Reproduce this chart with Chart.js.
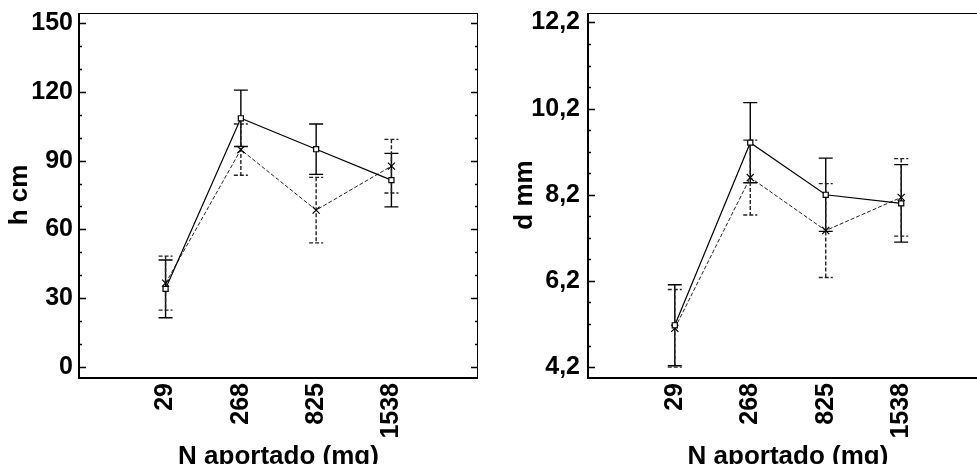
<!DOCTYPE html>
<html>
<head>
<meta charset="utf-8">
<script src="https://cdn.jsdelivr.net/npm/chart.js@4"></script>
<style>
html, body { margin: 0; padding: 0; background: #fff; overflow: hidden; width: 977px; height: 464px; }
.box { position: absolute; top: 0; height: 472px; }
#b1 { left: 0; width: 490px; }
#b2 { left: 490px; width: 510px; }
</style>
</head>
<body>
<div class="box" id="b1"><canvas id="c1"></canvas></div>
<div class="box" id="b2"><canvas id="c2"></canvas></div>
<script>
const doses = ['29', '268', '825', '1538'];

// h cm
const hSolid = [34, 108.5, 95, 81.5];
const hSolidErr = [12.6, 12.3, 11, 11.7];
const hDash = [36.5, 94.8, 68.4, 87.6];
const hDashErr = [11.8, 11.2, 14.3, 11.7];
const hTicks = [0, 30, 60, 90, 120, 150];

// d mm
const dSolid = [5.17, 9.41, 8.2, 8.0];
const dSolidErr = [0.94, 0.93, 0.85, 0.9];
const dDash = [5.1, 8.6, 7.37, 8.14];
const dDashErr = [0.9, 0.87, 1.09, 0.9];
const dTicks = [4.2, 6.2, 8.2, 10.2, 12.2];

Chart.defaults.font.family = 'Liberation Sans, Arial, sans-serif';
Chart.defaults.color = '#000';

const barsAndFrame = {
  id: 'barsAndFrame',
  beforeDatasetsDraw(chart, args, opts) {
    const ctx = chart.ctx, x = chart.scales.x, y = chart.scales.y;
    chart.data.datasets.forEach((ds, i) => {
      const err = opts.errors[i];
      ctx.save();
      ctx.strokeStyle = ds.borderColor;
      ctx.lineWidth = 1.4;
      ctx.setLineDash(ds.borderDash || []);
      ds.data.forEach((p, j) => {
        const px = x.getPixelForValue(p.x);
        const top = y.getPixelForValue(p.y + err[j]);
        const bot = y.getPixelForValue(p.y - err[j]);
        ctx.beginPath();
        ctx.moveTo(px, top); ctx.lineTo(px, bot);
        ctx.moveTo(px - 7, top); ctx.lineTo(px + 7, top);
        ctx.moveTo(px - 7, bot); ctx.lineTo(px + 7, bot);
        ctx.stroke();
      });
      ctx.restore();
    });
  },
  afterDraw(chart, args, opts) {
    const ctx = chart.ctx, a = chart.chartArea, y = chart.scales.y;
    ctx.save();
    ctx.strokeStyle = '#000';
    // tick marks, inside the frame
    ctx.lineWidth = 1.3;
    y.ticks.forEach(t => {
      const py = Math.round(y.getPixelForValue(t.value)) + 0.5;
      const len = opts.majors.some(m => Math.abs(m - t.value) < 1e-6) ? 7 : 3;
      ctx.beginPath();
      ctx.moveTo(a.left, py); ctx.lineTo(a.left + len, py);
      ctx.moveTo(a.right, py); ctx.lineTo(a.right - len, py);
      ctx.stroke();
    });
    // frame
    ctx.lineWidth = 1;
    ctx.beginPath();
    ctx.moveTo(a.left, a.top + 0.5); ctx.lineTo(a.right, a.top + 0.5);
    ctx.moveTo(a.right - 0.5, a.top); ctx.lineTo(a.right - 0.5, a.bottom);
    ctx.stroke();
    ctx.lineWidth = 2;
    ctx.beginPath();
    ctx.moveTo(a.left, a.top); ctx.lineTo(a.left, a.bottom + 1);
    ctx.lineTo(a.right, a.bottom + 1);
    ctx.stroke();
    ctx.restore();
  }
};

function makeChart(id, p) {
  const toPts = arr => arr.map((v, i) => ({ x: i, y: v }));
  const isMajor = v => p.majors.some(m => Math.abs(m - v) < 1e-6);
  new Chart(document.getElementById(id), {
    type: 'line',
    data: {
      datasets: [{
        data: toPts(p.solid),
        borderColor: '#000',
        borderWidth: 1.2,
        pointStyle: 'rect',
        pointRadius: 3.6,
        pointBackgroundColor: '#fff',
        pointBorderColor: '#000',
        pointBorderWidth: 1.2,
        tension: 0
      }, {
        data: toPts(p.dash),
        borderColor: '#222',
        borderWidth: 1,
        borderDash: [4, 2],
        pointStyle: 'crossRot',
        pointRadius: 5,
        pointBorderColor: '#000',
        pointBorderWidth: 1.2,
        tension: 0
      }]
    },
    options: {
      responsive: true,
      maintainAspectRatio: false,
      animation: false,
      layout: { padding: { top: 13, right: 12, left: 0, bottom: 0 } },
      plugins: {
        legend: { display: false },
        tooltip: { enabled: false },
        barsAndFrame: { errors: [p.solidErr, p.dashErr], majors: p.majors }
      },
      scales: {
        x: {
          type: 'linear',
          min: -1.15,
          max: 4.15,
          grid: { display: false, drawTicks: false },
          border: { display: false },
          afterBuildTicks: s => { s.ticks = doses.map((d, i) => ({ value: i })); },
          afterFit: s => { s.height = 95; s.paddingLeft = 0; s.paddingRight = 0; },
          ticks: {
            autoSkip: false,
            minRotation: 90,
            maxRotation: 90,
            padding: 6,
            font: { size: 25, weight: 'bold' },
            callback: v => doses[v]
          },
          title: {
            display: true,
            text: 'N aportado (mg)',
            font: { size: 26, weight: 'bold' },
            padding: 0
          }
        },
        y: {
          min: p.min,
          max: p.max,
          grid: { display: false, drawTicks: false },
          border: { display: false },
          afterBuildTicks: s => {
            const t = [];
            for (let v = p.majors[0]; v <= p.max + 1e-9; v += p.step) t.push({ value: Math.round(v * 100) / 100 });
            s.ticks = t;
          },
          afterFit: s => { s.width = p.axisWidth; s.paddingTop = 0; s.paddingBottom = 0; },
          ticks: {
            autoSkip: false,
            padding: p.tickPad,
            font: { size: 25, weight: 'bold' },
            callback: v => isMajor(v) ? p.fmt(v) : ''
          },
          title: {
            display: true,
            text: p.title,
            font: { size: 26, weight: 'bold' },
            padding: { top: p.titlePad, bottom: 0 }
          }
        }
      }
    },
    plugins: [barsAndFrame]
  });
}

makeChart('c1', {
  solid: hSolid, solidErr: hSolidErr, dash: hDash, dashErr: hDashErr,
  majors: hTicks, step: 10, min: -4.5, max: 154.5,
  title: 'h cm', axisWidth: 79, tickPad: 6, titlePad: 4,
  fmt: v => String(v)
});

makeChart('c2', {
  solid: dSolid, solidErr: dSolidErr, dash: dDash, dashErr: dDashErr,
  majors: dTicks, step: 0.5, min: 3.97, max: 12.42,
  title: 'd mm', axisWidth: 98, tickPad: 8, titlePad: 19,
  fmt: v => v.toFixed(1).replace('.', ',')
});
</script>
</body>
</html>
